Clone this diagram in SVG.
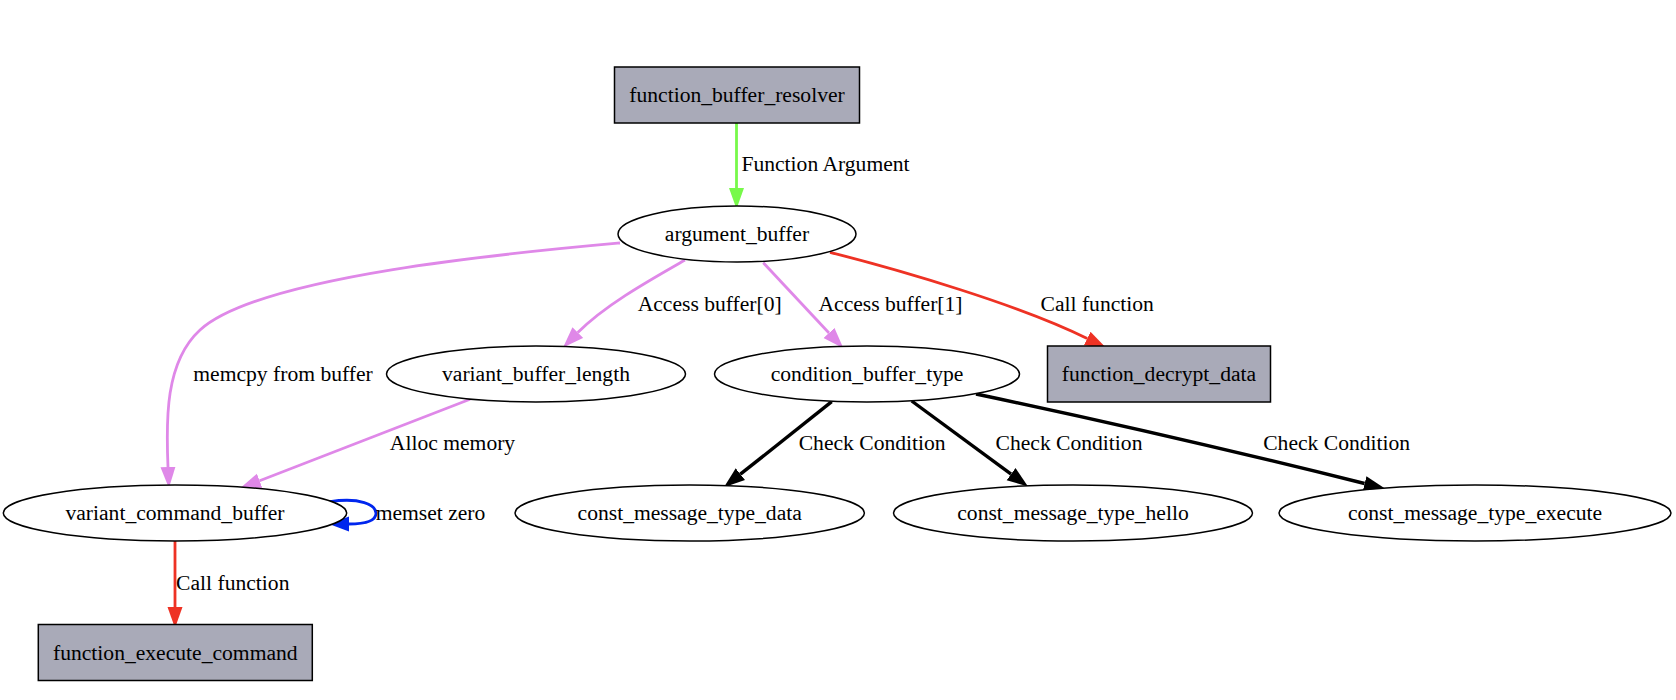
<svg xmlns="http://www.w3.org/2000/svg" width="1676" height="700" viewBox="0 0 1676 700">
<style>
text{font-family:"Liberation Serif","Times New Roman",serif;font-size:21.6px;fill:#000;text-anchor:middle}
.node ellipse{fill:#fff;stroke:#000;stroke-width:1.5}
.node rect{fill:#a9aab8;stroke:#000;stroke-width:1.5}
.e{fill:none;stroke-width:2.8}
.g{stroke:#77f94a}
.v{stroke:#df88e8}
.r{stroke:#ee3224}
.b{stroke:#0026ee}
.k{stroke:#000;stroke-width:3.4}
</style>
<defs>
<marker id="ag" markerUnits="userSpaceOnUse" markerWidth="22" markerHeight="16" refX="0" refY="7.5" orient="auto"><path d="M0,0 L21,7.5 L0,15 z" fill="#77f94a"/></marker>
<marker id="av" markerUnits="userSpaceOnUse" markerWidth="22" markerHeight="16" refX="0" refY="7.5" orient="auto"><path d="M0,0 L21,7.5 L0,15 z" fill="#df88e8"/></marker>
<marker id="ar" markerUnits="userSpaceOnUse" markerWidth="22" markerHeight="16" refX="0" refY="7.5" orient="auto"><path d="M0,0 L21,7.5 L0,15 z" fill="#ee3224"/></marker>
<marker id="ab" markerUnits="userSpaceOnUse" markerWidth="22" markerHeight="16" refX="0" refY="7.5" orient="auto"><path d="M0,0 L20,7.5 L0,15 z" fill="#0026ee"/></marker>
<marker id="ak" markerUnits="userSpaceOnUse" markerWidth="22" markerHeight="16" refX="0" refY="7.5" orient="auto"><path d="M0,0 L21,7.5 L0,15 z" fill="#000"/></marker>
</defs>
<rect width="1676" height="700" fill="#fff"/>
<g id="connectors">
<path class="e g" d="M736.5,123 L736.5,188" marker-end="url(#ag)"/>
<text x="825.5" y="171">Function Argument</text>
<path class="e v" d="M620,243 C520,252 260,275 200,330 C165,362 166,420 168,467" marker-end="url(#av)"/>
<text x="283" y="381">memcpy from buffer</text>
<path class="e v" d="M685,260 C650,280 605,305 577.8,332.6" marker-end="url(#av)"/>
<text x="709.7" y="311">Access buffer[0]</text>
<path class="e v" d="M763.3,262.7 L829,333" marker-end="url(#av)"/>
<text x="890.5" y="311">Access buffer[1]</text>
<path class="e r" d="M830,252.3 C900,270 1020,305 1087.2,338.5" marker-end="url(#ar)"/>
<text x="1097.2" y="311">Call function</text>
<path class="e v" d="M470,399.3 L259.6,480.7" marker-end="url(#av)"/>
<text x="452.5" y="449.5">Alloc memory</text>
<path class="e b" d="M330,501.7 C360,497 376,505 376,513.3 C376,521 365,524 349,524" marker-end="url(#ab)"/>
<text x="430.5" y="519.5">memset zero</text>
<path class="e k" d="M831.7,401.7 L740.4,474.2" marker-end="url(#ak)"/>
<text x="872.2" y="450">Check Condition</text>
<path class="e k" d="M911.7,401 L1011.1,474.1" marker-end="url(#ak)"/>
<text x="1069" y="450">Check Condition</text>
<path class="e k" d="M976,394 C1100,420 1250,455 1364.6,483.5" marker-end="url(#ak)"/>
<text x="1336.7" y="450">Check Condition</text>
<path class="e r" d="M175,541 L175,607" marker-end="url(#ar)"/>
<text x="232.8" y="589.5">Call function</text>
</g>
<g id="function_buffer_resolver" class="node"><rect x="614.5" y="67" width="245" height="56"/><text x="737" y="102">function_buffer_resolver</text></g>
<g id="argument_buffer" class="node"><ellipse cx="737" cy="234" rx="119" ry="28"/><text x="737" y="241">argument_buffer</text></g>
<g id="variant_buffer_length" class="node"><ellipse cx="536" cy="374" rx="149.5" ry="28"/><text x="536" y="381">variant_buffer_length</text></g>
<g id="condition_buffer_type" class="node"><ellipse cx="867" cy="374" rx="152.5" ry="28"/><text x="867" y="381">condition_buffer_type</text></g>
<g id="function_decrypt_data" class="node"><rect x="1047.5" y="346" width="223" height="56"/><text x="1159" y="381">function_decrypt_data</text></g>
<g id="variant_command_buffer" class="node"><ellipse cx="175" cy="513" rx="171.7" ry="28"/><text x="175" y="520">variant_command_buffer</text></g>
<g id="const_message_type_data" class="node"><ellipse cx="689.7" cy="513" rx="174.7" ry="28"/><text x="689.7" y="520">const_message_type_data</text></g>
<g id="const_message_type_hello" class="node"><ellipse cx="1073" cy="513" rx="179.5" ry="28"/><text x="1073" y="520">const_message_type_hello</text></g>
<g id="const_message_type_execute" class="node"><ellipse cx="1475" cy="513" rx="196" ry="28"/><text x="1475" y="520">const_message_type_execute</text></g>
<g id="function_execute_command" class="node"><rect x="38.3" y="624.5" width="274" height="56"/><text x="175.3" y="659.5">function_execute_command</text></g>
</svg>
